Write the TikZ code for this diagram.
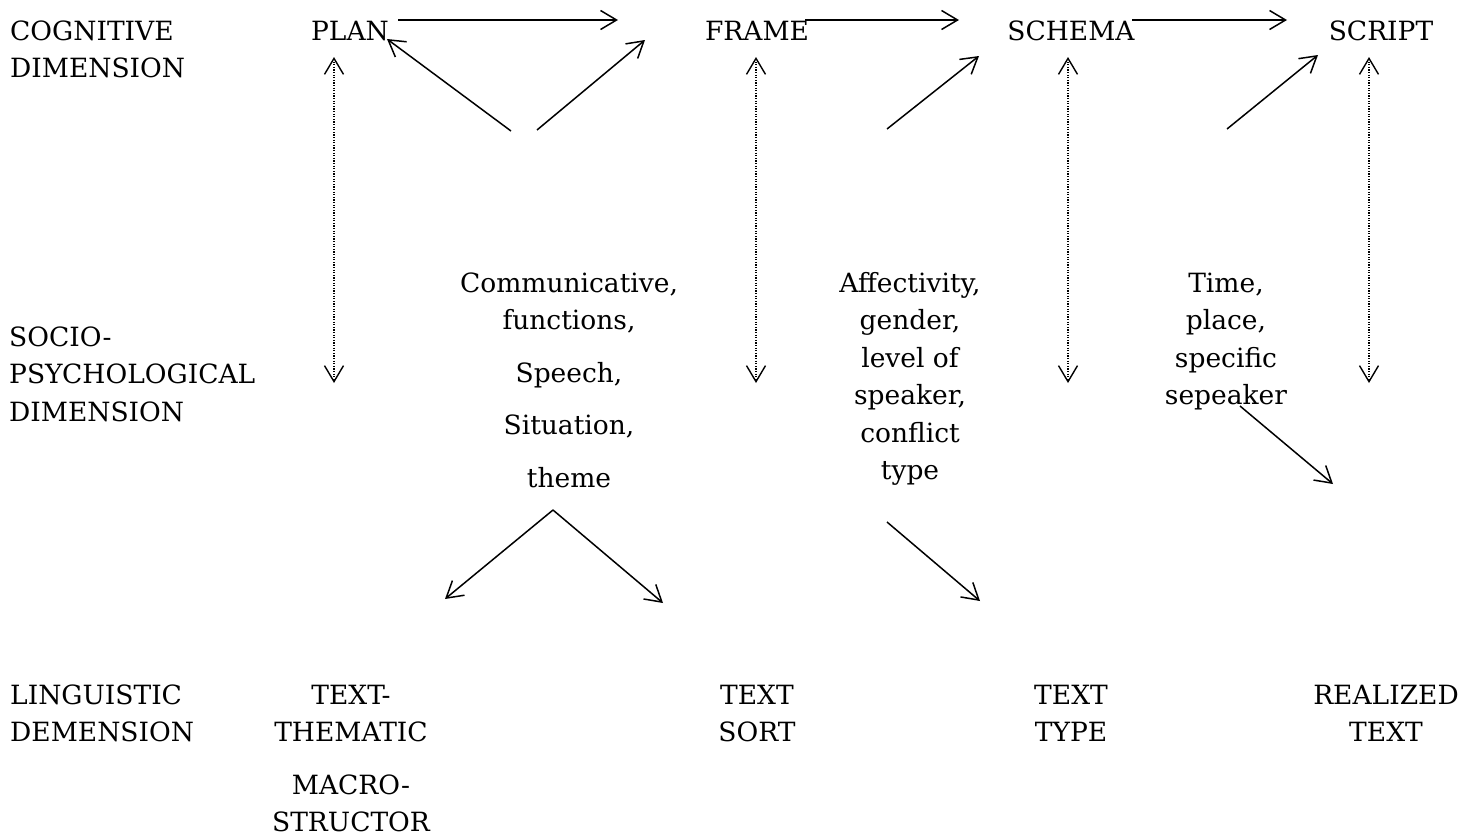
\documentclass[tikz,border=0pt]{standalone}
\usepackage{fontspec}
\setmainfont{DejaVu Serif}
\usetikzlibrary{arrows.meta}
\newcommand\tabc[1]{\begin{tabular}[t]{@{}c@{}}#1\end{tabular}}
\newcommand\tabl[1]{\begin{tabular}[t]{@{}l@{}}#1\end{tabular}}
\begin{document}
\begin{tikzpicture}[x=1pt,y=-1pt,
  lbl/.style={inner sep=0pt, font=\fontsize{26.5}{37.5}\selectfont},
  arr/.style={line width=1.5pt, -{Straight Barb[length=16pt,width=19pt,line width=1.5pt]}},
  darr/.style={line width=1.3pt, dash pattern=on 1.2pt off 1.4pt,
    {Straight Barb[length=16pt,width=19pt,line width=1.4pt]}-{Straight Barb[length=16pt,width=19pt,line width=1.4pt]}}]
\path[use as bounding box] (0,0) rectangle (1462,836);

% row labels
\node[lbl, anchor=base west] (cog) at (10,40) {\tabl{COGNITIVE\\DIMENSION}};
\node[lbl, anchor=base west] (soc) at (9,346) {\tabl{SOCIO-\\PSYCHOLOGICAL\\DIMENSION}};
\node[lbl, anchor=base west] (lin) at (10,704) {\tabl{LINGUISTIC\\DEMENSION}};

% top row
\node[lbl, anchor=base] (plan) at (350,40) {PLAN};
\node[lbl, anchor=base] (frame) at (757,40) {FRAME};
\node[lbl, anchor=base] (schema) at (1071,40) {SCHEMA};
\node[lbl, anchor=base] (script) at (1381,40) {SCRIPT};

% middle texts
\node[lbl, anchor=base] (c1) at (569,292) {\tabc{Communicative,\\functions,\\[15pt]Speech,\\[15pt]Situation,\\[15pt]theme}};
\node[lbl, anchor=base] (c2) at (910,292) {\tabc{Affectivity,\\gender,\\level of\\speaker,\\conflict\\type}};
\node[lbl, anchor=base] (c3) at (1226,292) {\tabc{Time,\\place,\\specific\\sepeaker}};

% bottom row
\node[lbl, anchor=base] (t1) at (351,704) {\tabc{TEXT-\\THEMATIC\\[15pt]MACRO-\\STRUCTOR}};
\node[lbl, anchor=base] (t2) at (757,704) {\tabc{TEXT\\SORT}};
\node[lbl, anchor=base] (t3) at (1071,704) {\tabc{TEXT\\TYPE}};
\node[lbl, anchor=base] (t4) at (1386,704) {\tabc{REALIZED\\TEXT}};

% arrow end points
\coordinate (pfA) at (398,20);  \coordinate (pfB) at (618,20);
\coordinate (fsA) at (805,20);  \coordinate (fsB) at (959,20);
\coordinate (ssA) at (1132,20); \coordinate (ssB) at (1287,20);
\coordinate (d1A) at (511,131); \coordinate (d1B) at (387,39);
\coordinate (d2A) at (537,130); \coordinate (d2B) at (645,40);
\coordinate (d3A) at (887,129); \coordinate (d3B) at (979,56);
\coordinate (d4A) at (1227,129); \coordinate (d4B) at (1318,55);
\coordinate (apex) at (553,510); \coordinate (bl) at (445,599); \coordinate (br) at (663,603);
\coordinate (d5A) at (887,522); \coordinate (d5B) at (980,601);
\coordinate (d6A) at (1240,406); \coordinate (d6B) at (1333,484);
\coordinate (v1A) at (334,57);  \coordinate (v1B) at (334,383);
\coordinate (v2A) at (756,57);  \coordinate (v2B) at (756,383);
\coordinate (v3A) at (1068,57); \coordinate (v3B) at (1068,383);
\coordinate (v4A) at (1369,57); \coordinate (v4B) at (1369,383);

% solid arrows
\draw[arr] (pfA) -- (pfB);
\draw[arr] (fsA) -- (fsB);
\draw[arr] (ssA) -- (ssB);
\draw[arr] (d1A) -- (d1B);
\draw[arr] (d2A) -- (d2B);
\draw[arr] (d3A) -- (d3B);
\draw[arr] (d4A) -- (d4B);
\draw[arr] (apex) -- (bl);
\draw[arr] (apex) -- (br);
\draw[arr] (d5A) -- (d5B);
\draw[arr] (d6A) -- (d6B);

% dotted double arrows
\draw[darr] (v1A) -- (v1B);
\draw[darr] (v2A) -- (v2B);
\draw[darr] (v3A) -- (v3B);
\draw[darr] (v4A) -- (v4B);
\end{tikzpicture}
\end{document}
